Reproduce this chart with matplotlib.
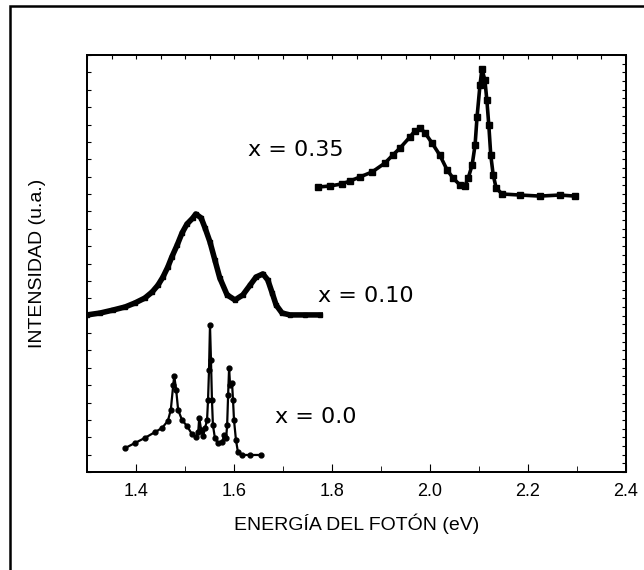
import matplotlib
matplotlib.use("Agg")
import matplotlib.pyplot as plt
from matplotlib.ticker import MultipleLocator
from matplotlib.patches import Rectangle

plt.rcParams['font.family'] = ['Liberation Sans', 'DejaVu Sans']

# x = 0.0 spectrum (energy eV, intensity a.u.)
e_00 = [1.378, 1.398, 1.418, 1.439, 1.453, 1.465, 1.471, 1.476, 1.478, 1.482,
        1.486, 1.494, 1.504, 1.514, 1.522, 1.527, 1.529, 1.533, 1.537, 1.541,
        1.545, 1.547, 1.549, 1.551, 1.553, 1.555, 1.557, 1.561, 1.567, 1.576,
        1.580, 1.584, 1.586, 1.588, 1.590, 1.592, 1.596, 1.598, 1.600, 1.604,
        1.608, 1.616, 1.633, 1.655]
i_00 = [1.38, 1.67, 1.96, 2.30, 2.53, 2.94, 3.57, 5.01, 5.53, 4.72,
        3.57, 2.99, 2.65, 2.19, 2.01, 2.30, 3.11, 2.42, 2.07, 2.53,
        2.99, 4.14, 5.87, 8.46, 6.45, 4.14, 2.70, 1.96, 1.67, 1.73,
        2.13, 1.96, 2.70, 4.43, 5.99, 5.01, 5.12, 4.14, 2.99, 1.84,
        1.15, 0.98, 0.98, 0.98]

# x = 0.10 spectrum
e_10 = [1.300, 1.327, 1.353, 1.378, 1.398, 1.418, 1.433, 1.445, 1.455, 1.465,
        1.473, 1.484, 1.494, 1.504, 1.516, 1.522, 1.533, 1.541, 1.551, 1.561,
        1.571, 1.586, 1.602, 1.618, 1.633, 1.645, 1.659, 1.669, 1.678, 1.686,
        1.698, 1.714, 1.745, 1.776]
i_10 = [9.04, 9.15, 9.32, 9.50, 9.73, 10.01, 10.36, 10.76, 11.22, 11.80,
        12.37, 13.06, 13.76, 14.27, 14.62, 14.85, 14.62, 14.04, 13.24, 12.20,
        11.17, 10.19, 9.90, 10.19, 10.76, 11.22, 11.40, 11.05, 10.30, 9.61,
        9.15, 9.04, 9.04, 9.04]

# x = 0.35 spectrum
e_35 = [1.771, 1.796, 1.820, 1.837, 1.857, 1.882, 1.908, 1.924, 1.939, 1.959,
        1.969, 1.980, 1.990, 2.004, 2.020, 2.035, 2.047, 2.061, 2.071, 2.078,
        2.086, 2.092, 2.096, 2.102, 2.106, 2.112, 2.116, 2.120, 2.124, 2.129,
        2.135, 2.147, 2.184, 2.224, 2.265, 2.296]
i_35 = [16.40, 16.46, 16.58, 16.75, 16.98, 17.27, 17.78, 18.24, 18.65, 19.28,
        19.63, 19.80, 19.51, 18.94, 18.24, 17.38, 16.92, 16.52, 16.46, 16.92,
        17.67, 18.82, 20.43, 22.27, 23.19, 22.56, 21.41, 19.97, 18.24, 17.09,
        16.35, 16.00, 15.94, 15.88, 15.94, 15.88]

labels = ["x = 0.0", "x = 0.10", "x = 0.35"]

fig = plt.figure(figsize=(6.44, 5.70), dpi=100)
ax = fig.add_axes([87 / 644, 98 / 570, 539 / 644, 417 / 570])

ax.plot(e_00, i_00, color="black", lw=1.6, marker="o", ms=3.5)
ax.plot(e_10, i_10, color="black", lw=4.0, marker="s", ms=3.5)
ax.plot(e_35, i_35, color="black", lw=2.6, marker="s", ms=4)

for xx, yy, s in zip([1.684, 1.771, 1.629], [3.17, 10.13, 18.53], labels):
    ax.text(xx, yy, s, fontsize=16, va="center", family=["DejaVu Sans"])

ax.set_xlim(1.3, 2.4)
ax.set_ylim(0, 24)
ax.xaxis.set_major_locator(MultipleLocator(0.2))
ax.xaxis.set_minor_locator(MultipleLocator(0.1))
ax.yaxis.set_major_locator(MultipleLocator(1))
ax.set_yticklabels([])
ax.tick_params(axis="x", which="major", direction="in", length=6, labelsize=13, pad=8)
ax.tick_params(axis="x", which="minor", direction="in", length=4)
ax.tick_params(axis="y", direction="in", length=3)
ax.set_xlabel("ENERGÍA DEL FOTÓN (eV)", fontsize=14, labelpad=10)
ax.set_ylabel("INTENSIDAD (u.a.)", fontsize=14, labelpad=26)

# extra ticks on top and right
axt = ax.twiny()
axt.set_xlim(1.3, 2.4)
axt.xaxis.set_major_locator(MultipleLocator(0.05))
axt.tick_params(axis="x", direction="in", length=3, labeltop=False)
axr = ax.twinx()
axr.set_ylim(0, 24)
axr.yaxis.set_major_locator(MultipleLocator(0.5))
axr.tick_params(axis="y", direction="in", length=3, labelright=False)

for a in (ax, axt, axr):
    for s in a.spines.values():
        s.set_linewidth(1.2)

fig.add_artist(Rectangle((10 / 644, -0.05), 1.1, (570 - 6) / 570 + 0.05,
                         transform=fig.transFigure, fill=False, lw=1.8,
                         edgecolor="black", clip_on=False))

fig.savefig("out.png", dpi=100)
